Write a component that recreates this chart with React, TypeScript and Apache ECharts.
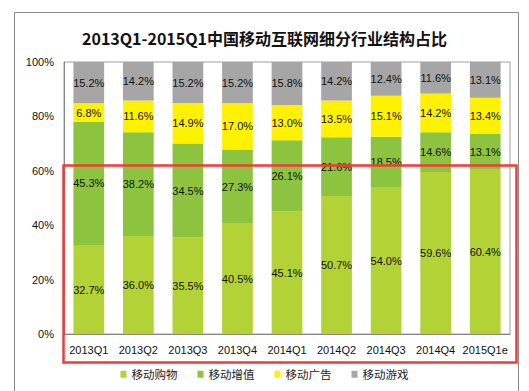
import React, { useEffect, useRef } from "react";
import * as echarts from "echarts";

const categories = ["2013Q1", "2013Q2", "2013Q3", "2013Q4", "2014Q1", "2014Q2", "2014Q3", "2014Q4", "2015Q1e"];
const seriesNames = ["移动购物", "移动增值", "移动广告", "移动游戏"];
const shopping = [32.7, 36.0, 35.5, 40.5, 45.1, 50.7, 54.0, 59.6, 60.4];
const valueAdded = [45.3, 38.2, 34.5, 27.3, 26.1, 21.6, 18.5, 14.6, 13.1];
const advertising = [6.8, 11.6, 14.9, 17.0, 13.0, 13.5, 15.1, 14.2, 13.4];
const games = [15.2, 14.2, 15.2, 15.2, 15.8, 14.2, 12.4, 11.6, 13.1];
const yTicks = [0, 20, 40, 60, 80, 100];
const colors = ["#b3d235", "#8cc43f", "#fff200", "#a6a6a6"];

export default function App() {
  const ref = useRef<HTMLDivElement>(null);
  useEffect(() => {
    if (!ref.current) return;
    const chart = echarts.init(ref.current, null, { renderer: "svg" });
    const font = "Arial, 'Liberation Sans', 'Noto Sans CJK SC', sans-serif";
    const data = [shopping, valueAdded, advertising, games];
    chart.setOption({
      animation: false,
      color: colors,
      title: {
        text: "2013Q1-2015Q1中国移动互联网细分行业结构占比",
        left: "center",
        top: 25,
        textStyle: { fontSize: 16, fontWeight: "bold", color: "#111", fontFamily: "'Noto Sans CJK SC', sans-serif" },
      },
      grid: {
        left: 64,
        top: 62,
        right: 19,
        bottom: 57,
        show: true,
        borderColor: "#a0a0a0",
        borderWidth: 1,
      },
      legend: {
        bottom: 6,
        left: "center",
        data: seriesNames,
        itemWidth: 6,
        itemHeight: 7,
        itemGap: 20,
        icon: "rect",
        textStyle: { fontSize: 11.5, color: "#222", fontFamily: "'Noto Sans CJK SC', sans-serif" },
      },
      xAxis: {
        type: "category",
        data: categories,
        axisLine: { show: true, lineStyle: { color: "#888" } },
        axisTick: { show: false },
        axisLabel: { interval: 0, fontSize: 11, color: "#111", fontFamily: font, margin: 10 },
      },
      yAxis: {
        type: "value",
        min: yTicks[0],
        max: yTicks[yTicks.length - 1],
        interval: 20,
        axisLine: { show: true, lineStyle: { color: "#888" } },
        axisTick: { show: false },
        splitLine: { show: false },
        axisLabel: { fontSize: 11, color: "#111", fontFamily: font, formatter: "{value}%", margin: 10 },
      },
      series: seriesNames.map((name, i) => ({
        name,
        type: "bar",
        stack: "total",
        barWidth: "62%",
        data: data[i],
        itemStyle: { color: colors[i] },
        label: {
          show: true,
          position: "inside",
          formatter: (p: any) => p.value.toFixed(1) + "%",
          fontSize: 11,
          color: "#111",
          textBorderWidth: 0,
          fontFamily: font,
        },
      })),
      graphic: [
        {
          type: "polyline",
          shape: { points: [[14.5, 400], [14.5, 12.5], [518.5, 12.5], [518.5, 400]] },
          style: { stroke: "#8a8a8a", fill: "none", lineWidth: 1 },
          z: 50,
        },
        {
          type: "rect",
          shape: { x: 63.5, y: 165.5, width: 453, height: 197 },
          style: { stroke: "#f23a3a", fill: "none", lineWidth: 2.5 },
          z: 100,
        },
      ],
    });
    return () => chart.dispose();
  }, []);
  return (
    <div
      ref={ref}
      style={{ position: "fixed", left: 0, top: 0, width: 529, height: 391, background: "#fff" }}
    />
  );
}
